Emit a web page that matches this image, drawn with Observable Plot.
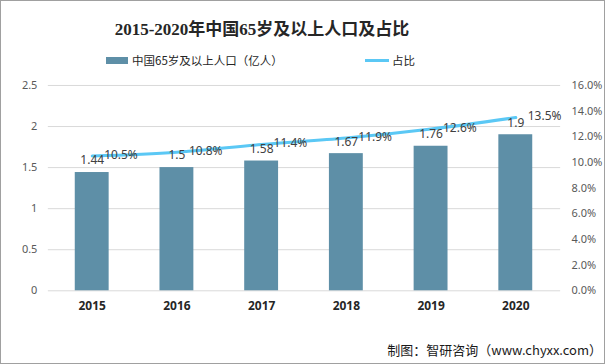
<!DOCTYPE html>
<html>
<head>
<meta charset="utf-8">
<script src="https://cdn.jsdelivr.net/npm/d3@7"></script>
<script src="https://cdn.jsdelivr.net/npm/@observablehq/plot@0.6"></script>
<style>
  html, body { margin: 0; padding: 0; background: #fff; }
  #wrap { position: relative; width: 605px; height: 364px; box-sizing: border-box; border: 1px solid #a0a0a0; overflow: hidden; font-family: "Noto Sans", "Noto Sans CJK SC", sans-serif; }
  #title { position: absolute; left: 0; width: 522px; top: 14px; text-align: center; font-family: "Liberation Serif", "Noto Sans CJK SC", serif; font-weight: bold; font-size: 17px; color: #262626; white-space: nowrap; }
  .leg { position: absolute; top: 51px; font-size: 11.5px; color: #262626; white-space: nowrap; display: flex; align-items: center; font-family: "Noto Sans CJK SC", sans-serif; }
  .sw1 { display: inline-block; width: 22px; height: 7px; background: #5E8FA7; margin-right: 4px; }
  .sw2 { display: inline-block; width: 24px; height: 3px; background: #5BC8F5; margin-right: 3px; }
  #plot { position: absolute; left: 0; top: 75px; }
  #caption { position: absolute; right: 2px; bottom: 4px; font-size: 13px; color: #1a1a1a; font-family: "Noto Sans CJK SC", sans-serif; white-space: nowrap; }
</style>
</head>
<body>
<div id="wrap">
  <div id="title">2015-2020年中国65岁及以上人口及占比</div>
  <div class="leg" style="left:105px"><span class="sw1"></span>中国65岁及以上人口（亿人）</div>
  <div class="leg" style="left:364px"><span class="sw2"></span>占比</div>
  <div id="plot"></div>
  <div id="caption">制图：智研咨询（www.chyxx.com）</div>
</div>
<script>
const years = ["2015", "2016", "2017", "2018", "2019", "2020"];
const population = [1.44, 1.5, 1.58, 1.67, 1.76, 1.9];
const share = [10.5, 10.8, 11.4, 11.9, 12.6, 13.5];
const leftTicks = [0, 0.5, 1, 1.5, 2, 2.5];
const rightTicks = [0, 2, 4, 6, 8, 10, 12, 14, 16];

const yMax = 2.5, pctMax = 16;
const toY = p => p / pctMax * yMax;

const data = years.map((y, i) => ({ year: y, pop: population[i], pct: share[i], py: toY(share[i]) }));

const chart = Plot.plot({
  width: 605,
  height: 250,
  marginLeft: 47,
  marginRight: 44,
  marginTop: 9,
  marginBottom: 35,
  style: { fontFamily: "'Noto Sans', sans-serif", background: "transparent" },
  x: { domain: years, paddingInner: 0.6, paddingOuter: 0.3, label: null },
  y: { domain: [0, yMax], label: null },
  marks: [
    Plot.ruleY(leftTicks, { stroke: "#d9d9d9", strokeWidth: 1 }),
    Plot.axisY(leftTicks, { anchor: "left", tickSize: 0, tickPadding: 11, label: null, fontSize: 11, fill: "#595959", tickFormat: d => String(d) }),
    Plot.axisY(rightTicks.map(toY), { anchor: "right", tickSize: 0, tickPadding: 11, label: null, fontSize: 11, fill: "#595959", textAnchor: "start", tickFormat: d => (d / yMax * pctMax).toFixed(1) + "%" }),
    Plot.axisX({ anchor: "bottom", tickSize: 0, tickPadding: 11, label: null, fontSize: 12, fontWeight: "bold", fill: "#262626" }),
    Plot.barY(data, { x: "year", y: "pop", fill: "#5E8FA7" }),
    Plot.line(data, { x: "year", y: "py", stroke: "#5BC8F5", strokeWidth: 3, curve: "monotone-x" }),
    Plot.text(data, { x: "year", y: "pop", text: d => String(d.pop), dy: -12, fontSize: 12, fill: "#404040" }),
    Plot.text(data, { x: "year", y: "py", text: d => d.pct.toFixed(1) + "%", dx: 12, dy: -1, textAnchor: "start", fontSize: 12, fill: "#404040" })
  ]
});
document.getElementById("plot").appendChild(chart);
</script>
</body>
</html>
